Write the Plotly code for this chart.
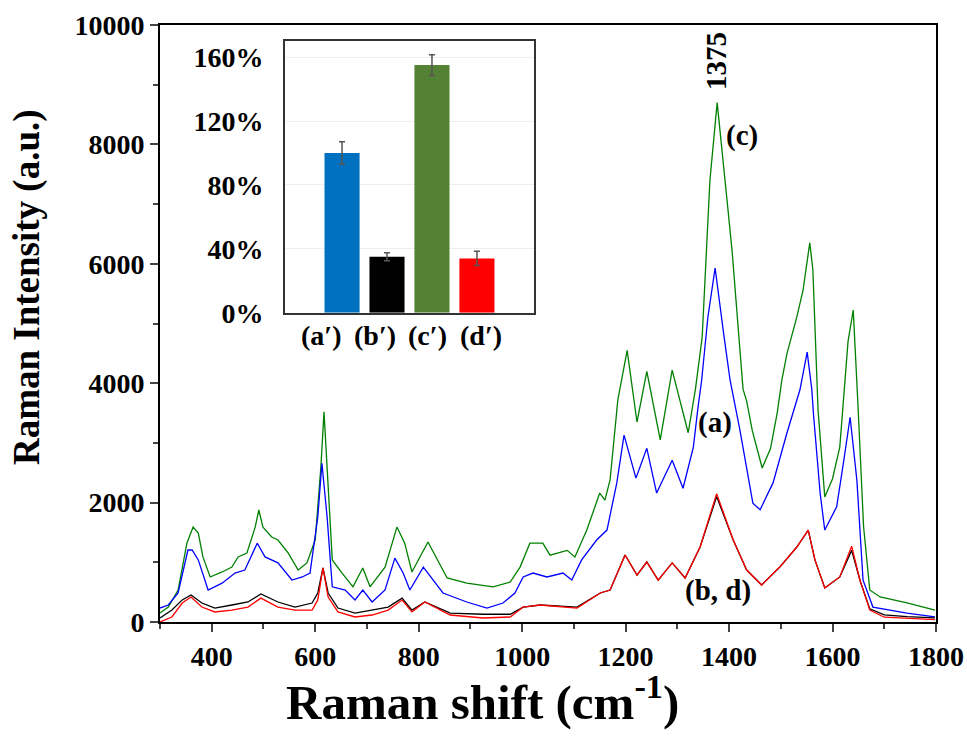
import plotly.graph_objects as go

# ---------------- data ----------------
shift_c = [300, 316, 335, 352, 364, 374, 383, 397, 420, 439, 451, 468, 484, 491, 499, 516, 528, 548, 567, 584, 600,
           611, 617, 625, 633, 652, 673, 692, 706, 735, 758, 773, 787, 818, 855, 893, 944, 977, 996, 1015, 1040,
           1054, 1087, 1102, 1125, 1150, 1160, 1170, 1185, 1203, 1222, 1241, 1267, 1290, 1321, 1335, 1348, 1363,
           1377, 1398, 1406, 1427, 1434, 1445, 1464, 1480, 1493, 1502, 1512, 1531, 1543, 1556, 1562, 1572, 1585,
           1600, 1614, 1630, 1640, 1649, 1660, 1672, 1692, 1744, 1798]
int_c = [150, 250, 536, 1320, 1590, 1490, 1090, 754, 838, 920, 1090, 1155, 1590, 1876, 1590, 1424, 1373, 1155, 871, 990, 1373,
         2600, 3520, 2330, 1040, 820, 590, 905, 590, 920, 1590, 1320, 838, 1340, 737, 650, 590, 670, 920, 1320, 1320,
         1120, 1200, 1090, 1540, 2160, 2040, 2380, 3720, 4550, 3350, 4200, 3050, 4220, 3170, 3900, 4770, 7400,
         8700, 6900, 6200, 3900, 3700, 3200, 2580, 2900, 3500, 4050, 4500, 5110, 5560, 6350, 5900, 3550, 2094,
         2400, 2930, 4700, 5226, 3668, 1600, 536, 420, 320, 200]

shift_a = [300, 316, 335, 354, 362, 374, 393, 420, 445, 464, 488, 503, 528, 555, 575, 590, 605, 613, 623, 633, 658,
           677, 692, 710, 735, 754, 770, 783, 809, 847, 893, 932, 963, 986, 1002, 1021, 1048, 1079, 1096, 1115,
           1144, 1164, 1183, 1197, 1220, 1241, 1260, 1290, 1311, 1331, 1340, 1347, 1359, 1373, 1390, 1402, 1421,
           1446, 1460, 1485, 1512, 1537, 1551, 1560, 1563, 1576, 1585, 1608, 1621, 1634, 1647, 1659, 1678, 1744, 1798]
int_a = [234, 285, 486, 1206, 1206, 1040, 536, 650, 820, 871, 1320, 1090, 990, 703, 754, 820, 1760, 2660, 1760, 590, 536,
         370, 536, 335, 536, 1070, 820, 536, 920, 486, 335, 234, 318, 486, 754, 820, 754, 820, 703, 1040,
         1373, 1540, 2330, 3130, 2410, 2910, 2160, 2710, 2240, 2930, 3600, 4050, 5100, 5930, 4800, 4050, 3215,
         1990, 1880, 2330, 3170, 3890, 4520, 3890, 3500, 2160, 1540, 1930, 2660, 3430, 2380, 700, 250, 150, 85]

shift_bd = [300, 323, 343, 360, 381, 406, 439, 470, 495, 528, 561, 594, 605, 615, 625, 644, 677, 710, 741, 768, 787,
            812, 861, 924, 977, 1002, 1035, 1106, 1151, 1170, 1199, 1222, 1241, 1263, 1290, 1315, 1344, 1376, 1408,
            1434, 1463, 1498, 1531, 1553, 1566, 1585, 1614, 1637, 1653, 1672, 1700, 1744, 1798]
int_b = [67, 200, 370, 452, 318, 234, 285, 335, 470, 335, 251, 318, 486, 905, 486, 234, 150, 200, 251, 400, 200,
         335, 150, 130, 130, 250, 285, 250, 486, 536, 1122, 787, 1005, 700, 990, 737, 1256, 2100, 1375,
         870, 620, 920, 1256, 1540, 1040, 570, 755, 1200, 700, 220, 120, 90, 70]
int_d = [0, 84, 318, 419, 251, 168, 200, 251, 400, 251, 200, 200, 370, 905, 419, 168, 84, 117, 200, 368, 170,
         335, 117, 67, 84, 250, 285, 234, 486, 536, 1122, 787, 1005, 700, 990, 737, 1256, 2150, 1375,
         870, 620, 920, 1256, 1540, 1040, 570, 755, 1270, 700, 200, 80, 60, 40]

bar_labels = ["(a′)", "(b′)", "(c′)", "(d′)"]
bar_values = [100, 35, 155, 34]
bar_errors = [7, 2.5, 6.5, 4.5]
bar_colors = ["#0070C0", "#000000", "#548235", "#FF0000"]

x_ticks = [400, 600, 800, 1000, 1200, 1400, 1600, 1800]
y_ticks = [0, 2000, 4000, 6000, 8000, 10000]
inset_ticks = [0, 40, 80, 120, 160]

# ---------------- figure ----------------
FONT = "Liberation Serif"
fig = go.Figure()

for xs, ys, col in [(shift_c, int_c, "#008000"), (shift_a, int_a, "#0000FF"),
                    (shift_bd, int_b, "#000000"), (shift_bd, int_d, "#FF0000")]:
    fig.add_trace(go.Scatter(x=xs, y=ys, mode="lines", line=dict(color=col, width=1.3),
                             showlegend=False, xaxis="x", yaxis="y"))

fig.add_trace(go.Bar(x=bar_labels, y=bar_values, marker=dict(color=bar_colors, line=dict(width=0)),
                     width=0.78,
                     error_y=dict(type="data", array=bar_errors, color="#555555", thickness=1.5, width=3),
                     showlegend=False, xaxis="x2", yaxis="y2"))

fig.update_layout(
    width=967, height=738,
    margin=dict(l=160, r=31, t=25, b=116),
    paper_bgcolor="white", plot_bgcolor="white",
    font=dict(family=FONT, color="black"),
    xaxis=dict(range=[300, 1800], tickvals=x_ticks, ticks="outside", ticklen=8, tickwidth=2,
               minor=dict(ticks="outside", dtick=100, tick0=300, ticklen=5, tickwidth=1.5),
               showline=True, linewidth=2, linecolor="black", mirror=True, showgrid=False, zeroline=False,
               automargin=False, ticklabeloverflow="allow",
               tickfont=dict(size=28, family=FONT, weight="bold")),
    yaxis=dict(range=[0, 10000], tickvals=y_ticks, ticktext=[str(v) for v in y_ticks],
               ticks="outside", ticklen=8, tickwidth=2,
               minor=dict(ticks="outside", dtick=1000, ticklen=5, tickwidth=1.5),
               showline=True, linewidth=2, linecolor="black", mirror=True, showgrid=False, zeroline=False,
               automargin=False,
               tickfont=dict(size=28, family=FONT, weight="bold")),
    xaxis2=dict(domain=[0.161, 0.482], anchor="y2", range=[-1.27, 4.27], showline=True, linewidth=1.5,
                linecolor="#333333", mirror=True, ticks="", showticklabels=False,
                automargin=False, showgrid=False),
    yaxis2=dict(domain=[0.518, 0.973], anchor="x2", range=[0, 170], tickvals=inset_ticks,
                ticktext=[f"{v}%" for v in inset_ticks], showline=True, linewidth=1.5, linecolor="#333333",
                mirror=True, ticks="outside", ticklen=14, tickcolor="rgba(0,0,0,0)", automargin=False,
                showgrid=True, gridcolor="#EEEEEE", gridwidth=1, zeroline=False,
                tickfont=dict(size=28, family=FONT, weight="bold")),
)

# axis titles
fig.add_annotation(x=-0.1714, y=0.561, xref="paper", yref="paper", text="<b>Raman Intensity (a.u.)</b>",
                   xanchor="center", yanchor="middle",
                   textangle=-90, showarrow=False, font=dict(size=37, family=FONT, color="black"))
fig.add_annotation(x=0.416, y=-0.128, xref="paper", yref="paper", text="<b>Raman shift (cm<sup>-1</sup>)</b>",
                   xanchor="center", yanchor="middle",
                   showarrow=False, font=dict(size=49, family=FONT, color="black"))

# inset category labels (placed in a row under the inset box)
label_pos = [0.145, 0.361, 0.574, 0.787]
for lab, px in zip(bar_labels, label_pos):
    fig.add_annotation(x=px, y=-0.02, xref="x2 domain", yref="y2 domain", text=f"<b>{lab}</b>",
                       xanchor="center", yanchor="top",
                       showarrow=False, font=dict(size=28, family=FONT, color="black"))

ann_font = dict(size=29, family=FONT, color="black", weight="bold")
fig.add_annotation(x=1375, y=9400, text="1375", textangle=-90, showarrow=False, xref="x", yref="y", font=ann_font)
fig.add_annotation(x=1425, y=8150, text="(c)", showarrow=False, xref="x", yref="y", font=ann_font)
fig.add_annotation(x=1373, y=3350, text="(a)", showarrow=False, xref="x", yref="y", font=ann_font)
fig.add_annotation(x=1379, y=520, text="(b, d)", showarrow=False, xref="x", yref="y", font=ann_font)

fig.write_html("out.html", config={"displayModeBar": False},
               post_script="document.body.style.margin='0';document.body.style.overflow='hidden';")
